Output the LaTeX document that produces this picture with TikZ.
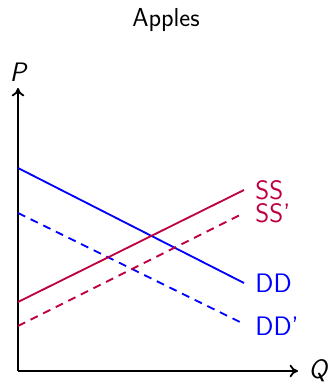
\documentclass[tikz,border=0pt]{standalone}
\usepackage{xcolor}
\usepackage{tikz}
\usetikzlibrary{arrows.meta,positioning,calc}
\tikzset{
  axisline/.style={line width=1.3pt, ->, >={To[length=6pt,width=9pt]}},
  demand/.style={line width=1.3pt, blue},
  supply/.style={line width=1.3pt, purple},
  shifted/.style={dash pattern=on 5.7pt off 4.3pt},
  curvelbl/.style={anchor=west, font=\fontsize{19}{22}\selectfont\sffamily, inner sep=0pt},
  axislbl/.style={font=\fontsize{19}{22}\selectfont\sffamily\itshape, inner sep=0pt},
}

\begin{document}
\begin{tikzpicture}
    \useasboundingbox (-0.45,-0.275) rectangle (7.85,9.275);
    \coordinate (orig) at (0,0);
    \coordinate (ptop) at (0,7.075);
    \coordinate (qend) at (7.0,0);
    \node[font=\fontsize{18.5}{21}\selectfont\sffamily] (title) at (3.7,8.775) {Apples};
    \draw[axisline] (orig) -- (ptop);
    \draw[axisline] (orig) -- (qend);
    \node[axislbl] (plbl) at (0,7.475) {P};
    \node[axislbl] (qlbl) at (7.5,0) {Q};
    % demand curves
    \coordinate (dd0) at (0,5.075);   \coordinate (dd1) at (5.65,2.2);
    \coordinate (ddp0) at (0,3.95);   \coordinate (ddp1) at (5.65,1.175);
    % supply curves
    \coordinate (ss0) at (0,1.725);   \coordinate (ss1) at (5.65,4.525);
    \coordinate (ssp0) at (0,1.125);  \coordinate (ssp1) at (5.65,3.95);
    \draw[demand] (dd0) -- (dd1);
    \draw[demand, shifted] (ddp0) -- (ddp1);
    \draw[supply] (ss0) -- (ss1);
    \draw[supply, shifted] (ssp0) -- (ssp1);
    \node[curvelbl, blue] (ddlbl) at (5.93,2.2) {DD};
    \node[curvelbl, blue] (ddplbl) at (5.93,1.125) {DD'};
    \node[curvelbl, purple] (sslbl) at (5.93,4.525) {SS};
    \node[curvelbl, purple] (ssplbl) at (5.93,3.95) {SS'};
\end{tikzpicture}
\end{document}
